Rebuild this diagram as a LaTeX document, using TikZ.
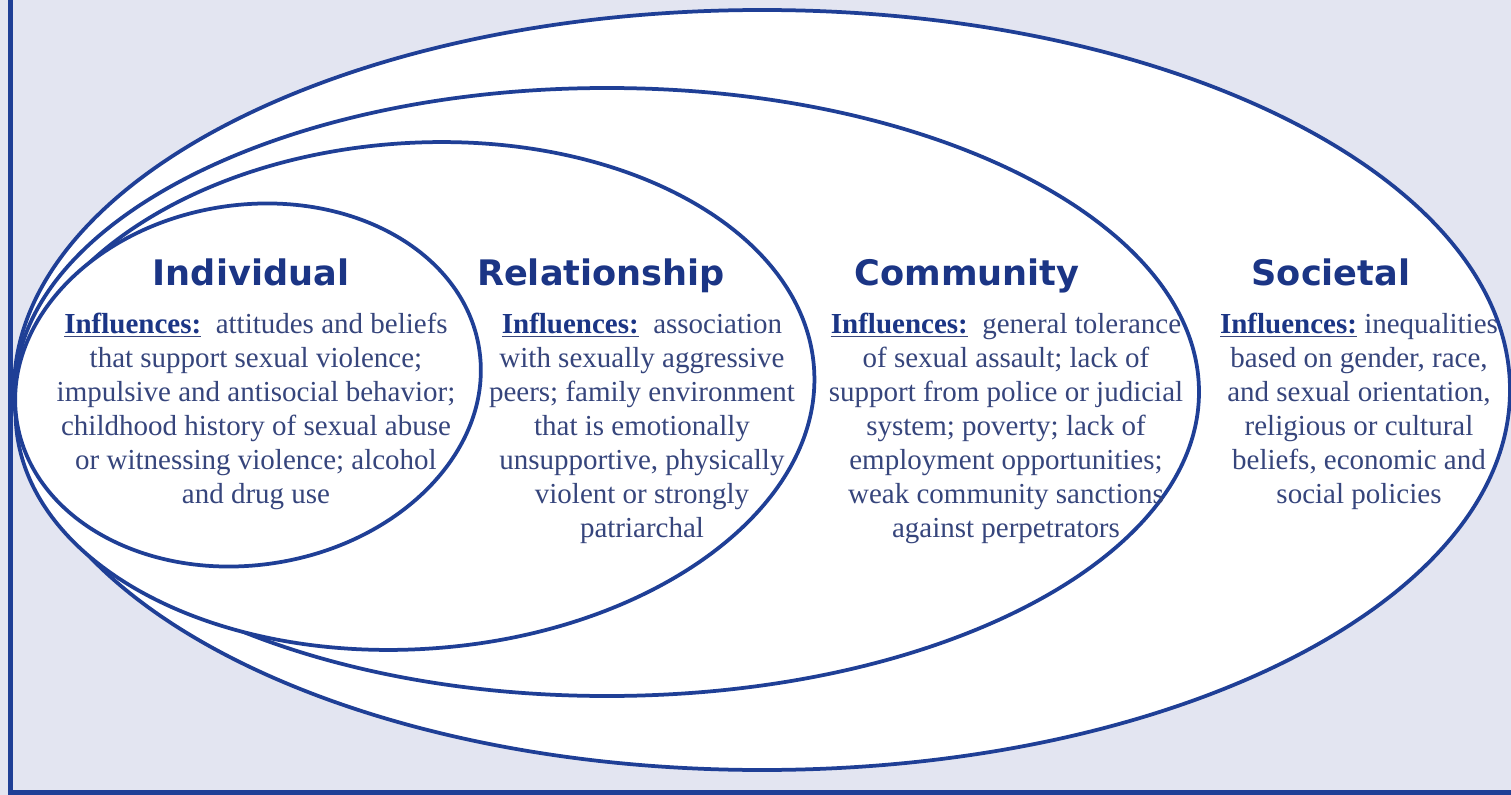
\documentclass[tikz,border=0pt]{standalone}
\usepackage{fontspec}
\setmainfont{Liberation Serif}
\newfontfamily\levelfont{DejaVu Sans}
\usetikzlibrary{positioning}

\definecolor{sembg}{HTML}{E3E5F1}
\definecolor{semline}{HTML}{1F3F96}
\definecolor{semtitle}{HTML}{1B3585}
\definecolor{semtext}{HTML}{36457C}

\newcommand\infl{\underline{\textbf{\color{semtitle}Influences:}}}

\begin{document}
\begin{tikzpicture}[
  x=0.2mm, y=-0.2mm,
  ringline/.style={draw=semline, line width=0.75mm, fill=white},
  leveltitle/.style={font=\levelfont\bfseries\fontsize{20}{24}\selectfont, text=semtitle, inner sep=0pt, anchor=base},
  levelbody/.style={font=\fontsize{16.5}{19.35}\selectfont, text=semtext, align=center, inner sep=0pt, anchor=north}
]

% Page and frame
\fill[sembg] (0,0) rectangle (1511,795);
\useasboundingbox (0,0) rectangle (1511,795);
\draw[semline, line width=1mm] (10,-10) -- (10,792) -- (1530,792);

% Nested levels, outer to inner
\draw[ringline] (762,390) ellipse (748 and 380);
\draw[ringline] (607,392) ellipse (592 and 304);
\draw[ringline, rotate around={4:(415,396)}] (415,396) ellipse (400 and 253);
\draw[ringline, rotate around={9:(248,385)}] (248,385) ellipse (234 and 180);

% Titles
\node[leveltitle] (TitleInd) at (251,285) {Individual};
\node[leveltitle] (TitleRel) at (601,285) {Relationship};
\node[leveltitle] (TitleCom) at (967,285) {Community};
\node[leveltitle] (TitleSoc) at (1331,285) {Societal};

% Influences
\node[levelbody] (BodyInd) at (256,313) {\infl\ \ attitudes and beliefs\\ that support sexual violence;\\ impulsive and antisocial behavior;\\ childhood history of sexual abuse\\ or witnessing violence; alcohol\\ and drug use};
\node[levelbody] (BodyRel) at (642,313) {\infl\ \ association\\ with sexually aggressive\\ peers; family environment\\ that is emotionally\\ unsupportive, physically\\ violent or strongly\\ patriarchal};
\node[levelbody] (BodyCom) at (1006,313) {\infl\ \ general tolerance\\ of sexual assault; lack of\\ support from police or judicial\\ system; poverty; lack of\\ employment opportunities;\\ weak community sanctions\\ against perpetrators};
\node[levelbody] (BodySoc) at (1359,313) {\infl\ inequalities\\ based on gender, race,\\ and sexual orientation,\\ religious or cultural\\ beliefs, economic and\\ social policies};

\end{tikzpicture}
\end{document}
